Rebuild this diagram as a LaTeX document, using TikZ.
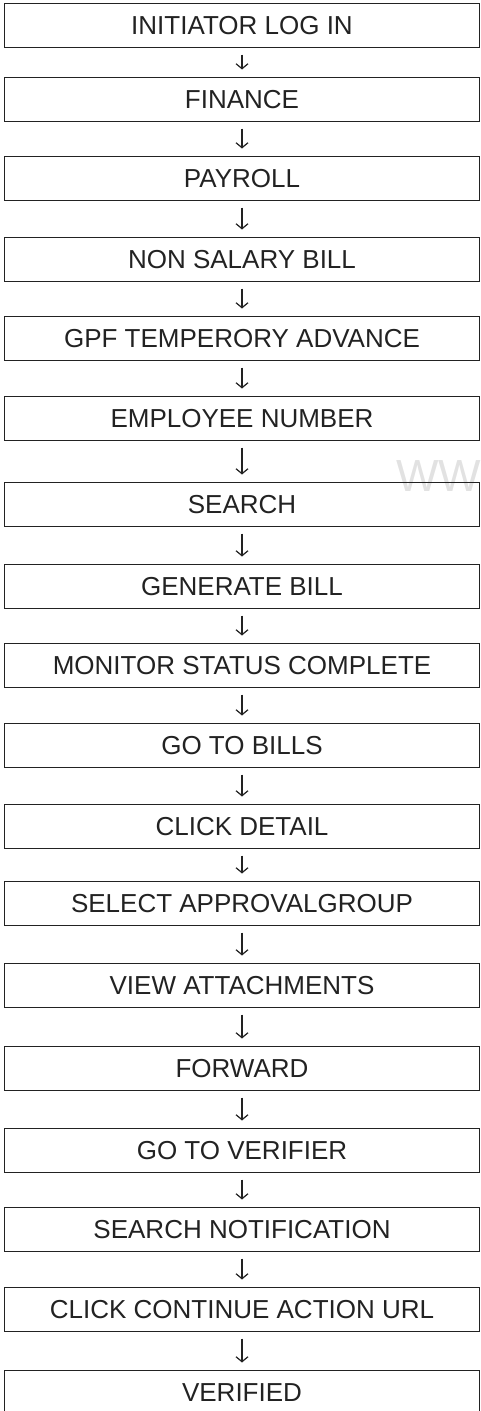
\documentclass[tikz,border=0pt]{standalone}
\usepackage{fontspec}
\setmainfont{Liberation Sans}
\usetikzlibrary{positioning}
\usetikzlibrary{arrows.meta}
\definecolor{ink}{HTML}{222222}
\definecolor{wmark}{HTML}{E2E2E2}
\tikzset{
  % One step of the procedure
  stepbox/.style={
    draw=ink, line width=1.5pt, rectangle, text=ink,
    font=\fontsize{26}{30}\selectfont, inner sep=0pt, outer sep=0pt,
    minimum width=475pt, minimum height=44pt},
  % Arrow from one step to the next
  flow/.style={-{Straight Barb[length=5pt, width=12pt, line width=1.2pt]},
    draw=ink, line width=1.2pt, shorten <=7pt, shorten >=8pt},
  % Faint watermark letters
  wmtext/.style={text=wmark, font=\fontsize{45}{50}\selectfont, inner sep=0pt},
}

\begin{document}
\begin{tikzpicture}

\useasboundingbox (0,0) rectangle (481pt,-1411pt);

\node[wmtext, anchor=west] (wm) at (396pt,-476pt) {WWW};

\node[stepbox] (login) at (242pt,-25.5pt) {INITIATOR LOG IN};
\node[stepbox, below=30pt of login] (finance) {FINANCE};
\node[stepbox, below=35pt of finance] (payroll) {PAYROLL};
\node[stepbox, below=37pt of payroll] (nonsalary) {NON SALARY BILL};
\node[stepbox, below=35pt of nonsalary] (gpf) {GPF TEMPERORY ADVANCE};
\node[stepbox, below=36pt of gpf] (empno) {EMPLOYEE NUMBER};
\node[stepbox, below=42pt of empno] (search) {SEARCH};
\node[stepbox, below=38pt of search] (genbill) {GENERATE BILL};
\node[stepbox, below=35pt of genbill] (monitor) {MONITOR STATUS COMPLETE};
\node[stepbox, below=36pt of monitor] (bills) {GO TO BILLS};
\node[stepbox, below=37pt of bills] (detail) {CLICK DETAIL};
\node[stepbox, below=33pt of detail] (approval) {SELECT APPROVALGROUP};
\node[stepbox, below=38pt of approval] (attach) {VIEW ATTACHMENTS};
\node[stepbox, below=39pt of attach] (forward) {FORWARD};
\node[stepbox, below=38pt of forward] (verifier) {GO TO VERIFIER};
\node[stepbox, below=35pt of verifier] (notify) {SEARCH NOTIFICATION};
\node[stepbox, below=36pt of notify] (continue) {CLICK CONTINUE ACTION URL};
\node[stepbox, below=39pt of continue] (verified) {VERIFIED};

\draw[flow] (login) -- (finance);
\draw[flow] (finance) -- (payroll);
\draw[flow] (payroll) -- (nonsalary);
\draw[flow] (nonsalary) -- (gpf);
\draw[flow] (gpf) -- (empno);
\draw[flow] (empno) -- (search);
\draw[flow] (search) -- (genbill);
\draw[flow] (genbill) -- (monitor);
\draw[flow] (monitor) -- (bills);
\draw[flow] (bills) -- (detail);
\draw[flow] (detail) -- (approval);
\draw[flow] (approval) -- (attach);
\draw[flow] (attach) -- (forward);
\draw[flow] (forward) -- (verifier);
\draw[flow] (verifier) -- (notify);
\draw[flow] (notify) -- (continue);
\draw[flow] (continue) -- (verified);

\end{tikzpicture}
\end{document}
